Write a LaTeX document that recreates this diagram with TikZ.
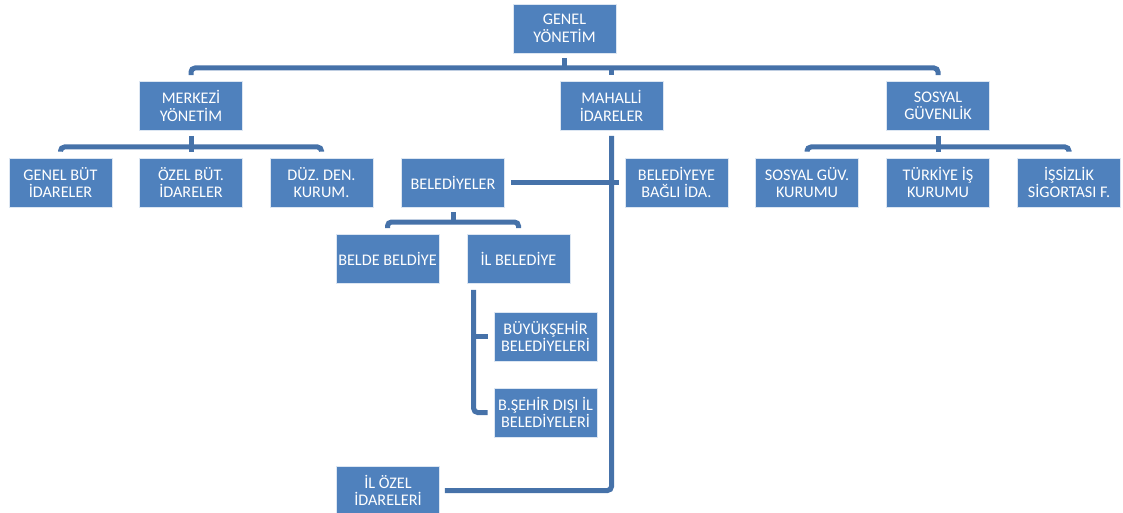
\documentclass[tikz,border=0pt]{standalone}
\usepackage{fontspec}
\setmainfont{Carlito}
\definecolor{boxblue}{HTML}{4F81BD}
\definecolor{boxedge}{HTML}{DCE6F2}
\definecolor{linkblue}{HTML}{4672A9}
\tikzset{
  unit/.style={draw=boxedge, line width=0.7pt, fill=boxblue, text=white,
    minimum width=103pt, minimum height=49pt, inner sep=2pt, align=center,
    font=\fontsize{16.2}{17.5}\selectfont},
  conn/.style={draw=linkblue, line width=5pt, rounded corners=4pt},
  gapA/.style={shorten <=5pt},
  gapB/.style={shorten >=6pt},
}
\begin{document}
\begin{tikzpicture}[x=1pt, y=-1pt]
\useasboundingbox (0,0) rectangle (1123,513);

% boxes
\node[unit] (gy)  at (564.5,28.5) {GENEL\\YÖNETİM};
\node[unit] (merk) at (191,106)   {MERKEZİ\\YÖNETİM};
\node[unit] (mah) at (611.5,106)  {MAHALLİ\\İDARELER};
\node[unit] (sos) at (938,106)    {SOSYAL\\GÜVENLİK};
\node[unit] (gbi) at (60.5,182.5) {GENEL BÜT\\İDARELER};
\node[unit] (obi) at (191,182.5)  {ÖZEL BÜT.\\İDARELER};
\node[unit] (ddk) at (321.5,182.5){DÜZ. DEN.\\KURUM.};
\node[unit] (bel) at (453,182.5)  {BELEDİYELER};
\node[unit] (bby) at (676.5,182.5){BELEDİYEYE\\BAĞLI İDA.};
\node[unit] (sgk) at (807,182.5)  {SOSYAL GÜV.\\KURUMU};
\node[unit] (tik) at (938,182.5)  {TÜRKİYE İŞ\\KURUMU};
\node[unit] (isf) at (1069,182.5) {İŞSİZLİK\\SİGORTASI F.};
\node[unit] (bb)  at (387.5,259)  {BELDE BELDİYE};
\node[unit] (ilb) at (518.5,259)  {İL BELEDİYE};
\node[unit] (bsb) at (545.5,336.5){BÜYÜKŞEHİR\\BELEDİYELERİ};
\node[unit] (bdi) at (545.5,412.5){B.ŞEHİR DIŞI İL\\BELEDİYELERİ};
\node[unit] (ioi) at (388,490.5)  {İL ÖZEL\\İDARELERİ};

% bus levels
\coordinate (topbus) at (565,68);
\coordinate (mbus) at (191,147);
\coordinate (sbus) at (938,147);
\coordinate (bbus) at (453,222);
\coordinate (spine) at ([xshift=7pt]ilb.south west);

% top level
\draw[conn, shorten <=6pt, shorten >=6pt] (merk.north) |- (topbus) -| (sos.north);
\draw[conn, gapA] (gy.south) -- (gy.south |- topbus);
\draw[conn, gapB] (mah.north |- topbus) -- (mah.north);

% central administration
\draw[conn, shorten <=6pt, shorten >=6pt] (gbi.north) |- (mbus) -| (ddk.north);
\draw[conn, gapA, gapB] (merk.south) -- (obi.north);

% social security
\draw[conn, shorten <=6pt, shorten >=6pt] (sgk.north) |- (sbus) -| (isf.north);
\draw[conn, gapA, gapB] (sos.south) -- (tik.north);

% local administrations
\draw[conn, gapA, shorten >=5pt] (mah.south) |- (ioi.east);
\draw[conn, shorten <=6pt, gapB] (bel.east) -- (bby.west);

% municipalities
\draw[conn, shorten <=6pt, shorten >=6pt] (bb.north) |- (bbus) -| (ilb.north);
\draw[conn, gapA] (bel.south) -- (bbus);
\draw[conn, shorten <=6pt, gapB] (spine) |- (bdi.west);
\draw[conn, gapB] (spine |- bsb.west) -- (bsb.west);
\end{tikzpicture}
\end{document}
